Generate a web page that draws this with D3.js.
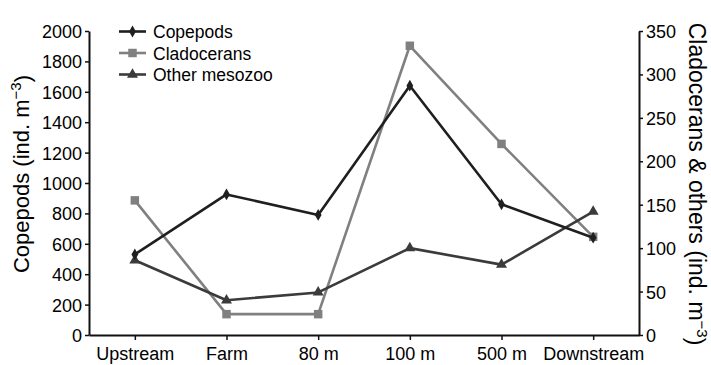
<!DOCTYPE html>
<html>
<head>
<meta charset="utf-8">
<script src="https://cdn.jsdelivr.net/npm/d3@7/dist/d3.min.js"></script>
<style>
  html, body { margin: 0; padding: 0; background: #fff; }
  svg { display: block; font-family: "Liberation Sans", Arial, sans-serif; }
</style>
</head>
<body>
<svg id="chart" width="711" height="365"></svg>
<script>
const categories = ["Upstream", "Farm", "80 m", "100 m", "500 m", "Downstream"];
const copepods = [530, 925, 790, 1640, 860, 640];
const cladocerans = [155, 24, 24, 333, 220, 113];
const otherMesozoo = [86, 40, 49, 100, 81, 142];
const leftTicks = [0, 200, 400, 600, 800, 1000, 1200, 1400, 1600, 1800, 2000];
const rightTicks = [0, 50, 100, 150, 200, 250, 300, 350];
const seriesNames = ["Copepods", "Cladocerans", "Other mesozoo"];

const svg = d3.select("#chart");
const plotLeft = 89, plotRight = 639, plotTop = 31, plotBottom = 335;

const x = d3.scalePoint().domain(categories).range([plotLeft, plotRight]).padding(0.5);
const yL = d3.scaleLinear().domain([0, 2000]).range([plotBottom, plotTop]);
const yR = d3.scaleLinear().domain([0, 350]).range([plotBottom, plotTop]);

function styleAxis(g) {
  g.selectAll("text").attr("font-size", 18).attr("fill", "#000").attr("font-family", "'Liberation Sans', Arial, sans-serif");
  g.select(".domain").attr("stroke", "#111").attr("stroke-width", 2);
  g.selectAll(".tick line").attr("stroke", "#111").attr("stroke-width", 1.5);
}

svg.append("g").attr("transform", `translate(0,${plotBottom})`)
  .call(d3.axisBottom(x).tickSize(5).tickSizeOuter(0).tickPadding(7))
  .call(styleAxis);

svg.append("g").attr("transform", `translate(${plotLeft},0)`)
  .call(d3.axisLeft(yL).tickValues(leftTicks).tickFormat(d3.format("d")).tickSize(4).tickSizeOuter(0).tickPadding(3))
  .call(styleAxis)
  .call(g => g.selectAll("text").attr("dy", "0.36em"));

svg.append("g").attr("transform", `translate(${plotRight},0)`)
  .call(d3.axisRight(yR).tickValues(rightTicks).tickFormat(d3.format("d")).tickSize(4).tickSizeOuter(0).tickPadding(3))
  .call(styleAxis)
  .call(g => g.selectAll("text").attr("dy", "0.36em"));

// Axis titles
const lt = svg.append("text").attr("transform", `translate(29,174) rotate(-90)`)
  .attr("text-anchor", "middle").attr("font-size", 22).attr("fill", "#000");
lt.append("tspan").text("Copepods (ind. m");
lt.append("tspan").attr("dy", "-0.55em").attr("font-size", 15).text("−3");
lt.append("tspan").attr("dy", "0.4em").text(")");

const rt = svg.append("text").attr("transform", `translate(689,184) rotate(90)`)
  .attr("text-anchor", "middle").attr("font-size", 23).attr("fill", "#000");
rt.append("tspan").text("Cladocerans & others (ind. m");
rt.append("tspan").attr("dy", "-0.55em").attr("font-size", 15).text("−3");
rt.append("tspan").attr("dy", "0.4em").text(")");

const series = [
  { name: seriesNames[0], values: copepods, y: yL, color: "#1f1f1f", marker: "diamond", size: 40 },
  { name: seriesNames[1], values: cladocerans, y: yR, color: "#808080", marker: "square", size: 72 },
  { name: seriesNames[2], values: otherMesozoo, y: yR, color: "#3b3b3b", marker: "triangle", size: 52 }
];
const symType = { diamond: d3.symbolDiamond, square: d3.symbolSquare, triangle: d3.symbolTriangle };

const plotOrder = [1, 2, 0];
plotOrder.forEach(i => {
  const s = series[i];
  const line = d3.line().x((d, j) => x(categories[j])).y(d => s.y(d));
  svg.append("path").datum(s.values).attr("d", line)
    .attr("fill", "none").attr("stroke", s.color).attr("stroke-width", 2.6).attr("stroke-linejoin", "round");
  svg.append("g").selectAll("path").data(s.values).join("path")
    .attr("transform", (d, j) => `translate(${x(categories[j])},${s.y(d)})`)
    .attr("d", d3.symbol().type(symType[s.marker]).size(s.size))
    .attr("fill", s.color);
});

// Legend
const legY = [31.5, 53, 74.5];
series.forEach((s, i) => {
  const g = svg.append("g").attr("transform", `translate(0,${legY[i]})`);
  g.append("line").attr("x1", 119).attr("x2", 146).attr("y1", 0).attr("y2", 0)
    .attr("stroke", s.color).attr("stroke-width", 2.6);
  g.append("path").attr("transform", "translate(132.5,0)")
    .attr("d", d3.symbol().type(symType[s.marker]).size(s.size)).attr("fill", s.color);
  g.append("text").attr("x", 153).attr("y", 6.5).attr("font-size", 17.5).attr("fill", "#000").text(s.name);
});
</script>
</body>
</html>
